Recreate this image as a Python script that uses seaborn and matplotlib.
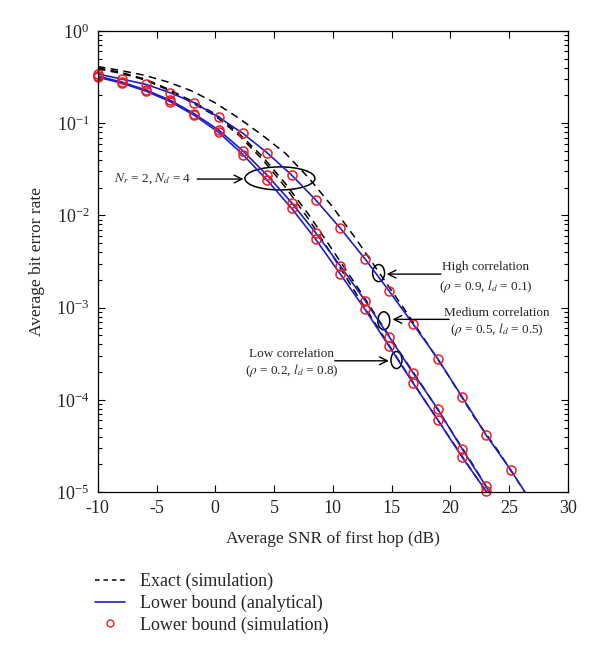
import numpy as np
import pandas as pd
import matplotlib
matplotlib.use("Agg")
import matplotlib.pyplot as plt
import seaborn as sns
from matplotlib.patches import Ellipse
from matplotlib.lines import Line2D

# ---------------- data ----------------
snr_sim = [-10, -7.95, -5.9, -3.85, -1.8, 0.3, 2.35, 4.4, 6.5, 8.55,
           10.65, 12.75, 14.8, 16.85, 18.95, 21.0, 23.05, 25.15]

# Lower bound (simulation) markers
ber_high_sim = [0.342, 0.301, 0.264, 0.214, 0.167, 0.116, 0.0776, 0.0479, 0.0274,
                0.0147, 0.00724, 0.00337, 0.00151, 6.59e-4, 2.77e-4, 1.08e-4,
                4.15e-5, 1.73e-5]
ber_med_sim = [0.324, 0.279, 0.229, 0.178, 0.127, 0.0841, 0.0501, 0.0274, 0.01374,
               0.00646, 0.00282, 0.00119, 4.83e-4, 1.94e-4, 7.89e-5, 2.95e-5, 1.15e-5]
ber_low_sim = [0.316, 0.272, 0.223, 0.172, 0.122, 0.0794, 0.0457, 0.0242, 0.01194,
               0.0055, 0.0023, 9.55e-4, 3.80e-4, 1.51e-4, 6.03e-5, 2.40e-5, 1.02e-5]

# Lower bound (analytical) lines
snr_high_bound = snr_sim + [26.35]
ber_high_bound = ber_high_sim + [1.0e-5]
snr_med_bound = snr_sim[:17] + [23.35]
ber_med_bound = ber_med_sim + [1.0e-5]
snr_low_bound = snr_sim[:17] + [23.1]
ber_low_bound = ber_low_sim + [1.0e-5]

# Exact (simulation) dashed lines
snr_exact = [-10, -8, -6, -4, -2, 0, 2, 4, 6, 8, 10, 12, 14, 16, 18, 20, 22]
ber_high_exact = [0.412, 0.372, 0.331, 0.279, 0.224, 0.166, 0.1135, 0.0741, 0.0468,
                  0.0251, 0.0123, 0.0055, 0.00234, 0.0010, 4.17e-4, 1.70e-4, 6.6e-5]
snr_high_exact_tail = [24, 26.35]
ber_high_exact_tail = [2.88e-5, 1.0e-5]
ber_med_exact = [0.398, 0.355, 0.302, 0.234, 0.174, 0.126, 0.0776, 0.0437, 0.0219,
                 0.0100, 0.00417, 0.00174, 7.08e-4, 2.88e-4, 1.20e-4, 4.79e-5, 1.91e-5]
snr_med_exact_end = 23.35
ber_low_exact = [0.389, 0.347, 0.295, 0.229, 0.168, 0.120, 0.0741, 0.0407, 0.0200,
                 0.00891, 0.00363, 0.00141, 5.62e-4, 2.24e-4, 9.12e-5, 3.80e-5, 1.58e-5]
snr_low_exact_end = 23.1

x_ticks = [-10, -5, 0, 5, 10, 15, 20, 25, 30]

# ---------------- style ----------------
sns.set_style("ticks")
plt.rcParams["font.family"] = ["Liberation Serif", "DejaVu Serif"]
plt.rcParams["mathtext.fontset"] = "stix"
plt.rcParams["axes.unicode_minus"] = False

BLUE = "#1c1ccf"
RED = "#ee1c24"

fig = plt.figure(figsize=(6, 6.6), dpi=100)
ax = fig.add_axes([0.163, 0.2545, 0.7833, 0.6985])

# dashed exact curves
dash_sets = [
    (snr_exact + snr_high_exact_tail, ber_high_exact + ber_high_exact_tail),
    (snr_exact + [snr_med_exact_end], ber_med_exact + [1.0e-5]),
    (snr_exact + [snr_low_exact_end], ber_low_exact + [1.0e-5]),
]
for xs, ys in dash_sets:
    df = pd.DataFrame({"snr": xs, "ber": ys})
    sns.lineplot(data=df, x="snr", y="ber", ax=ax, color="black", linestyle="--",
                 linewidth=1.1, estimator=None, sort=False, dashes=False)
    ax.lines[-1].set_dashes([5, 3.5])

# blue analytical lower bounds
for xs, ys in [(snr_high_bound, ber_high_bound), (snr_med_bound, ber_med_bound),
               (snr_low_bound, ber_low_bound)]:
    df = pd.DataFrame({"snr": xs, "ber": ys})
    sns.lineplot(data=df, x="snr", y="ber", ax=ax, color=BLUE, linewidth=1.2,
                 estimator=None, sort=False)

# red circle markers
for ys in [ber_high_sim, ber_med_sim, ber_low_sim]:
    df = pd.DataFrame({"snr": snr_sim[:len(ys)], "ber": ys})
    sns.lineplot(data=df, x="snr", y="ber", ax=ax, marker="o", linestyle="",
                 markersize=6.5, markerfacecolor="none", markeredgecolor=RED,
                 markeredgewidth=1.1, color=RED, estimator=None, sort=False,
                 clip_on=False)

ax.set_yscale("log")
ax.set_xlim(-10, 30)
ax.set_ylim(1e-5, 1)
ax.set_xticks(x_ticks)
ax.set_xticklabels([str(t) for t in x_ticks])
ax.tick_params(which="both", direction="in", top=True, right=True,
               labelsize=13, width=0.8, color="black")
ax.tick_params(which="major", length=5, pad=6)
ax.tick_params(which="minor", length=3)
for s in ax.spines.values():
    s.set_linewidth(0.9)
    s.set_color("black")
ax.set_xlabel("Average SNR of first hop (dB)", fontsize=12.5, labelpad=10)
ax.set_ylabel("Average bit error rate", fontsize=12.5, labelpad=8)


def to_axes(x, y):
    return ax.transAxes.inverted().transform(ax.transData.transform((x, y)))


# ellipses
for (cx, cy, w, h) in [(5.5, 0.0252, 0.149, 0.050),
                       (13.9, 2.37e-3, 0.0255, 0.037),
                       (14.34, 7.2e-4, 0.0255, 0.039),
                       (15.42, 2.7e-4, 0.0234, 0.037)]:
    ca = to_axes(cx, cy)
    ax.add_patch(Ellipse(ca, w, h, transform=ax.transAxes, fill=False,
                         edgecolor="black", linewidth=1.1))

# arrows
arrow_kw = dict(arrowstyle="->", color="black", lw=1.0, mutation_scale=14,
                shrinkA=0, shrinkB=0)
for (x0, y0, x1, y1) in [(-1.55, 0.0248, 2.4, 0.0248),
                         (19.2, 2.31e-3, 14.58, 2.31e-3),
                         (19.9, 7.46e-4, 15.08, 7.46e-4),
                         (10.17, 2.65e-4, 14.77, 2.65e-4)]:
    ax.annotate("", xy=(x1, y1), xytext=(x0, y0), arrowprops=arrow_kw)

# annotation texts
fs = 9.5
ax.text(-2.0, 0.0248, r"$N_r$ = 2, $N_d$ = 4", ha="right", va="center", fontsize=fs)
ax.text(23.0, 2.74e-3, "High correlation", ha="center", va="center", fontsize=fs)
ax.text(23.0, 1.71e-3, r"($\rho$ = 0.9, $l_d$ = 0.1)", ha="center", va="center", fontsize=fs)
ax.text(24.0, 8.67e-4, "Medium correlation", ha="center", va="center", fontsize=fs)
ax.text(24.0, 5.86e-4, r"($\rho$ = 0.5, $l_d$ = 0.5)", ha="center", va="center", fontsize=fs)
ax.text(6.5, 3.14e-4, "Low correlation", ha="center", va="center", fontsize=fs)
ax.text(6.5, 2.10e-4, r"($\rho$ = 0.2, $l_d$ = 0.8)", ha="center", va="center", fontsize=fs)

# legend below the axes
handles = [
    Line2D([], [], color="black", linestyle="--", dashes=[3, 2.5], linewidth=1.1),
    Line2D([], [], color=BLUE, linewidth=1.2),
    Line2D([], [], marker="o", linestyle="", markersize=5, markerfacecolor="none",
           markeredgecolor=RED, markeredgewidth=1.0),
]
labels = ["Exact (simulation)", "Lower bound (analytical)", "Lower bound (simulation)"]
fig.legend(handles, labels, loc="upper left", bbox_to_anchor=(0.158, 0.132),
           frameon=False, fontsize=13, handlelength=1.7, handletextpad=0.8,
           labelspacing=0.25, borderpad=0, borderaxespad=0)

fig.savefig("out.png", dpi=100)
